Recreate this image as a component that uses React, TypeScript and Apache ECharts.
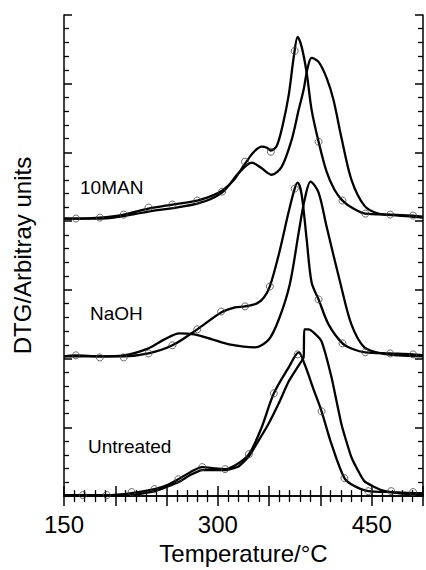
import React, { useEffect, useRef } from "react";
import * as echarts from "echarts";

// x: temperature (°C), y: DTG in arbitrary units (axis 0..35)
const xLabelTicks = [150, 300, 450];
const sampleNames = ["10MAN", "NaOH", "Untreated"];

const man10Marked: [number, number][] = [
  [150, 20.19], [161.6, 20.19], [184.9, 20.26], [208.2, 20.48], [232.4, 20.92], [255.7, 21.21],
  [279.9, 21.5], [294.5, 21.86], [304.1, 22.22], [315.8, 23.02], [326.5, 24.18], [335.2, 25.05],
  [342.9, 25.42], [347.8, 25.34], [351.7, 25.13], [357.5, 25.49], [363.3, 27.02], [369.1, 29.19],
  [374.0, 31.95], [377.8, 33.41], [381.7, 32.68], [386.6, 30.79], [391.4, 28.1], [398.2, 25.78],
  [406.0, 23.6], [413.7, 22.29], [421.5, 21.5], [432.1, 20.92], [443.8, 20.55], [468.0, 20.48],
  [490.3, 20.41], [500, 20.33],
];
const man10Plain: [number, number][] = [
  [150, 20.19], [184.9, 20.19], [232.4, 20.7], [279.9, 21.28], [304.1, 22.08], [320.6, 23.53],
  [333.2, 24.26], [342.0, 23.89], [352.6, 23.38], [362.3, 23.97], [372.0, 25.93], [378.8, 28.1],
  [383.6, 29.56], [387.5, 31.15], [391.4, 31.88], [398.2, 31.59], [406.0, 30.43], [412.7, 28.83],
  [420.5, 26.07], [430.2, 23.02], [442.8, 21.13], [456.4, 20.55], [475.8, 20.41], [500, 20.26],
];
const man10Circles: [number, number][] = [
  [161.6, 20.19], [184.9, 20.26], [208.2, 20.48], [232.4, 20.99], [255.7, 21.21], [279.9, 21.5],
  [304.1, 22.15], [326.5, 24.33], [351.7, 25.05], [374.9, 32.39], [398.2, 25.78], [421.5, 21.5],
  [443.8, 20.55], [468.0, 20.48], [490.3, 20.41],
];

const naohMarked: [number, number][] = [
  [150, 10.17], [161.6, 10.24], [184.9, 10.17], [208.2, 10.17], [232.4, 10.38], [255.7, 10.97],
  [279.9, 12.13], [303.2, 13.36], [316.8, 13.73], [326.5, 13.8], [338.1, 14.02], [344.9, 14.45],
  [350.7, 15.25], [359.4, 17.57], [369.1, 20.7], [374.9, 22.37], [377.8, 22.8], [381.7, 21.93],
  [386.6, 18.66], [391.4, 15.54], [398.2, 14.31], [407.9, 12.49], [421.5, 11.11], [432.1, 10.68],
  [443.8, 10.46], [468.0, 10.38], [490.3, 10.31], [500, 10.24],
];
const naohPlain: [number, number][] = [
  [150, 10.17], [184.9, 10.17], [208.2, 10.24], [232.4, 10.75], [247.9, 11.4], [262.5, 11.84],
  [277.0, 11.76], [294.5, 11.4], [310.9, 11.04], [336.1, 10.82], [349.7, 11.4], [359.4, 12.85],
  [370.1, 15.4], [378.8, 19.17], [384.6, 21.57], [390.4, 22.88], [398.2, 22.08], [406.0, 19.61],
  [419.5, 15.47], [430.2, 12.49], [442.8, 10.82], [459.3, 10.38], [475.8, 10.24], [500, 10.17],
];
const naohCircles: [number, number][] = [
  [161.6, 10.24], [184.9, 10.09], [208.2, 10.09], [232.4, 10.38], [255.7, 10.97], [279.9, 12.13],
  [303.2, 13.43], [326.5, 13.8], [350.7, 15.25], [374.9, 22.37], [398.2, 14.31], [421.5, 11.11],
  [443.8, 10.46], [468.0, 10.38], [490.3, 10.31],
];

const untreatedMarked: [number, number][] = [
  [150, 0.07], [168.4, 0.07], [191.7, 0.07], [215.9, 0.22], [238.2, 0.51], [250.8, 0.8],
  [261.5, 1.23], [273.1, 1.74], [284.8, 2.11], [294.5, 2.03], [307.1, 1.96], [318.7, 2.32],
  [330.3, 3.05], [342.0, 4.87], [354.6, 7.48], [369.1, 9.37], [378.8, 10.46], [384.6, 9.59],
  [393.3, 7.77], [401.1, 6.17], [410.8, 3.78], [423.4, 1.31], [433.1, 0.73], [446.7, 0.36],
  [469.0, 0.29], [490.3, 0.22], [500, 0.22],
];
const untreatedPlain: [number, number][] = [
  [150, 0], [215.9, 0.07], [238.2, 0.36], [261.5, 1.02], [273.1, 1.53], [284.8, 1.89],
  [294.5, 1.89], [307.1, 1.89], [320.6, 2.18], [330.3, 2.9], [340.0, 4.07], [349.7, 5.3],
  [359.4, 6.75], [369.1, 8.35], [378.8, 9.51], [383.6, 10.09], [384.3, 12.13], [388.5, 12.13],
  [394.3, 11.84], [401.1, 11.26], [410.8, 8.64], [420.5, 5.23], [430.2, 2.83], [442.8, 1.09],
  [459.3, 0.44], [475.8, 0.22], [500, 0.07],
];
const untreatedCircles: [number, number][] = [
  [168.4, 0.07], [191.7, 0.07], [215.9, 0.29], [238.2, 0.51], [261.5, 1.23], [284.8, 2.11],
  [307.1, 1.96], [330.3, 3.05], [354.6, 7.48], [377.8, 10.31], [401.1, 6.17], [423.4, 1.31],
  [446.7, 0.36], [469.0, 0.36], [490.3, 0.29],
];

const FONT = '"Liberation Sans", Arial, Helvetica, sans-serif';

export default function App() {
  const ref = useRef<HTMLDivElement>(null);
  useEffect(() => {
    if (!ref.current) return;
    const chart = echarts.init(ref.current, undefined, { renderer: "svg" });
    const axisLine = { show: true, lineStyle: { color: "#000", width: 1.5 } };
    const xCommon = {
      type: "value" as const,
      min: 150,
      max: 500,
      interval: 50,
      splitLine: { show: false },
      axisLine,
      axisTick: { show: true, inside: true, length: 10, lineStyle: { color: "#000", width: 1.5 } },
      minorTick: { show: true, splitNumber: 5, length: 6, lineStyle: { color: "#000", width: 1.3 } },
      minorSplitLine: { show: false },
    };
    const yCommon = {
      type: "value" as const,
      min: 0,
      max: 35,
      interval: 5,
      splitLine: { show: false },
      axisLine,
      axisTick: { show: true, inside: true, length: 8, lineStyle: { color: "#000", width: 1.5 } },
      minorTick: { show: true, splitNumber: 5, length: 5, lineStyle: { color: "#000", width: 1.3 } },
      minorSplitLine: { show: false },
      axisLabel: { show: false },
    };
    const lineSeries = (data: [number, number][], smooth: number) => ({
      type: "line" as const,
      data,
      showSymbol: false,
      symbol: "none",
      smooth,
      lineStyle: { color: "#000", width: 2.3 },
      silent: true,
      z: 2,
    });
    const circleSeries = (data: [number, number][]) => ({
      type: "scatter" as const,
      data,
      symbol: "circle",
      symbolSize: 7,
      itemStyle: { color: "rgba(0,0,0,0)", borderColor: "#444", borderWidth: 1 },
      silent: true,
      z: 3,
    });
    chart.setOption({
      animation: false,
      grid: { left: 64, right: 1, top: 15, bottom: 73, containLabel: false },
      xAxis: [
        {
          ...xCommon,
          position: "bottom",
          name: "Temperature/°C",
          nameLocation: "middle",
          nameGap: 44,
          nameTextStyle: { fontFamily: FONT, fontSize: 24, color: "#000" },
          axisLabel: {
            show: true,
            margin: 16,
            fontFamily: FONT,
            fontSize: 24,
            color: "#000",
            formatter: (v: number) => (xLabelTicks.includes(v) ? String(v) : ""),
          },
        },
        { ...xCommon, position: "top", axisLabel: { show: false } },
      ],
      yAxis: [
        {
          ...yCommon,
          position: "left",
          name: "DTG/Arbitray units",
          nameLocation: "middle",
          nameGap: 30,
          nameTextStyle: { fontFamily: FONT, fontSize: 24, color: "#000" },
        },
        { ...yCommon, position: "right" },
      ],
      series: [
        lineSeries(man10Plain, 0.3),
        lineSeries(man10Marked, 0.3),
        circleSeries(man10Circles),
        lineSeries(naohPlain, 0.3),
        lineSeries(naohMarked, 0.3),
        circleSeries(naohCircles),
        lineSeries(untreatedPlain, 0.15),
        lineSeries(untreatedMarked, 0.3),
        circleSeries(untreatedCircles),
      ],
      graphic: [
        { type: "text", left: 80, top: 178, style: { text: sampleNames[0], font: `19px ${FONT}`, fill: "#000" } },
        { type: "text", left: 90, top: 304, style: { text: sampleNames[1], font: `19px ${FONT}`, fill: "#000" } },
        { type: "text", left: 88, top: 437, style: { text: sampleNames[2], font: `19px ${FONT}`, fill: "#000" } },
      ],
    });
    return () => chart.dispose();
  }, []);
  return (
    <div
      ref={ref}
      style={{ position: "fixed", left: 0, top: 0, width: 426, height: 570, background: "#fff" }}
    />
  );
}
